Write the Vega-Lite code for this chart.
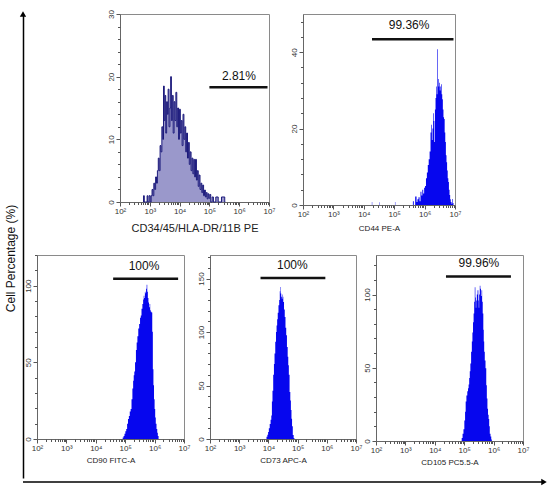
{
  "$schema": "https://vega.github.io/schema/vega-lite/v6.json",
  "background": "white",
  "padding": {"left": 4, "top": 9, "right": 0, "bottom": 0},
  "datasets": {
    "cd34": [
      {"e": 2.78, "n": 0}, {"e": 2.8, "n": 1}, {"e": 2.83, "n": 0}, {"e": 2.9, "n": 0}, {"e": 2.92, "n": 1}, {"e": 2.95, "n": 0},
      {"e": 3.0, "n": 1}, {"e": 3.03, "n": 0}, {"e": 3.06, "n": 1}, {"e": 3.09, "n": 2}, {"e": 3.12, "n": 1}, {"e": 3.15, "n": 3},
      {"e": 3.18, "n": 2}, {"e": 3.21, "n": 4}, {"e": 3.24, "n": 3}, {"e": 3.27, "n": 5}, {"e": 3.3, "n": 7}, {"e": 3.33, "n": 5},
      {"e": 3.36, "n": 9}, {"e": 3.39, "n": 8}, {"e": 3.42, "n": 12}, {"e": 3.45, "n": 10}, {"e": 3.47, "n": 18.5}, {"e": 3.5, "n": 13},
      {"e": 3.52, "n": 17}, {"e": 3.55, "n": 11}, {"e": 3.58, "n": 16}, {"e": 3.6, "n": 14}, {"e": 3.63, "n": 18}, {"e": 3.66, "n": 12},
      {"e": 3.69, "n": 15}, {"e": 3.71, "n": 20}, {"e": 3.74, "n": 13}, {"e": 3.77, "n": 17}, {"e": 3.8, "n": 11}, {"e": 3.83, "n": 16},
      {"e": 3.86, "n": 13}, {"e": 3.89, "n": 17.5}, {"e": 3.92, "n": 12}, {"e": 3.95, "n": 15}, {"e": 3.98, "n": 10}, {"e": 4.01, "n": 14.8},
      {"e": 4.04, "n": 11}, {"e": 4.07, "n": 13}, {"e": 4.1, "n": 9}, {"e": 4.13, "n": 14}, {"e": 4.16, "n": 10}, {"e": 4.19, "n": 12},
      {"e": 4.22, "n": 8}, {"e": 4.25, "n": 11}, {"e": 4.28, "n": 7}, {"e": 4.31, "n": 9.5}, {"e": 4.34, "n": 6}, {"e": 4.37, "n": 8},
      {"e": 4.4, "n": 5}, {"e": 4.43, "n": 7}, {"e": 4.46, "n": 4.5}, {"e": 4.49, "n": 6.8}, {"e": 4.52, "n": 4}, {"e": 4.55, "n": 6.8},
      {"e": 4.58, "n": 3.5}, {"e": 4.61, "n": 5}, {"e": 4.64, "n": 2.5}, {"e": 4.67, "n": 4.3}, {"e": 4.7, "n": 2}, {"e": 4.73, "n": 3},
      {"e": 4.76, "n": 1.5}, {"e": 4.79, "n": 2.7}, {"e": 4.82, "n": 1}, {"e": 4.85, "n": 1.9}, {"e": 4.88, "n": 0.8}, {"e": 4.91, "n": 1.5},
      {"e": 4.94, "n": 0.5}, {"e": 4.97, "n": 1.3}, {"e": 5.0, "n": 0.6}, {"e": 5.03, "n": 1.2}, {"e": 5.06, "n": 0}, {"e": 5.12, "n": 0.8},
      {"e": 5.15, "n": 0}, {"e": 5.28, "n": 0.8}, {"e": 5.31, "n": 0}, {"e": 5.5, "n": 0.8}, {"e": 5.53, "n": 0}
    ],
    "cd44": [
      {"e": 4.26, "n": 0}, {"e": 4.27, "n": 0.8}, {"e": 4.285, "n": 0}, {"e": 4.5, "n": 0}, {"e": 4.51, "n": 0.7}, {"e": 4.525, "n": 0},
      {"e": 5.02, "n": 0}, {"e": 5.03, "n": 0.8}, {"e": 5.045, "n": 0}, {"e": 5.6, "n": 0}, {"e": 5.63, "n": 1}, {"e": 5.66, "n": 0},
      {"e": 5.72, "n": 2.2}, {"e": 5.75, "n": 0.8},
      {"e": 5.78, "n": 1.5}, {"e": 5.82, "n": 2}, {"e": 5.85, "n": 1}, {"e": 5.88, "n": 3.5}, {"e": 5.91, "n": 2.5}, {"e": 5.94, "n": 4},
      {"e": 5.97, "n": 3}, {"e": 6.0, "n": 4.5}, {"e": 6.03, "n": 5}, {"e": 6.06, "n": 7}, {"e": 6.09, "n": 8.5}, {"e": 6.12, "n": 10.5},
      {"e": 6.15, "n": 12}, {"e": 6.18, "n": 14}, {"e": 6.21, "n": 19}, {"e": 6.23, "n": 21}, {"e": 6.25, "n": 17}, {"e": 6.27, "n": 20},
      {"e": 6.29, "n": 24}, {"e": 6.31, "n": 22}, {"e": 6.33, "n": 16.5}, {"e": 6.35, "n": 25}, {"e": 6.37, "n": 28}, {"e": 6.39, "n": 31},
      {"e": 6.41, "n": 29}, {"e": 6.43, "n": 40.8}, {"e": 6.45, "n": 33}, {"e": 6.47, "n": 31}, {"e": 6.49, "n": 32}, {"e": 6.51, "n": 30},
      {"e": 6.53, "n": 31}, {"e": 6.55, "n": 31.6}, {"e": 6.57, "n": 29}, {"e": 6.59, "n": 27.7}, {"e": 6.61, "n": 25}, {"e": 6.63, "n": 23},
      {"e": 6.65, "n": 22.5}, {"e": 6.67, "n": 19}, {"e": 6.69, "n": 16.5}, {"e": 6.71, "n": 13}, {"e": 6.73, "n": 11.2}, {"e": 6.75, "n": 9},
      {"e": 6.77, "n": 7}, {"e": 6.79, "n": 6}, {"e": 6.81, "n": 4}, {"e": 6.83, "n": 2.6}, {"e": 6.85, "n": 1.5}, {"e": 6.87, "n": 0.8},
      {"e": 6.9, "n": 0.3}, {"e": 6.92, "n": 1.6}, {"e": 6.94, "n": 0.5}, {"e": 6.96, "n": 0}
    ],
    "cd90": [
      {"e": 4.9, "n": 0}, {"e": 4.93, "n": 1}, {"e": 4.96, "n": 2}, {"e": 4.99, "n": 3.5}, {"e": 5.02, "n": 5}, {"e": 5.05, "n": 6.5},
      {"e": 5.08, "n": 10}, {"e": 5.11, "n": 13}, {"e": 5.14, "n": 15}, {"e": 5.17, "n": 18}, {"e": 5.2, "n": 19.5}, {"e": 5.23, "n": 26},
      {"e": 5.26, "n": 33}, {"e": 5.28, "n": 38}, {"e": 5.3, "n": 41.5}, {"e": 5.32, "n": 44}, {"e": 5.35, "n": 50}, {"e": 5.38, "n": 58},
      {"e": 5.4, "n": 63}, {"e": 5.43, "n": 67}, {"e": 5.46, "n": 72}, {"e": 5.49, "n": 75}, {"e": 5.52, "n": 79}, {"e": 5.54, "n": 80.5},
      {"e": 5.57, "n": 85}, {"e": 5.6, "n": 88}, {"e": 5.62, "n": 91}, {"e": 5.64, "n": 93.5}, {"e": 5.66, "n": 92}, {"e": 5.68, "n": 96},
      {"e": 5.7, "n": 95}, {"e": 5.72, "n": 98}, {"e": 5.74, "n": 100.6}, {"e": 5.76, "n": 96}, {"e": 5.78, "n": 92}, {"e": 5.8, "n": 89},
      {"e": 5.82, "n": 86}, {"e": 5.84, "n": 88}, {"e": 5.86, "n": 84}, {"e": 5.88, "n": 83}, {"e": 5.91, "n": 82.5}, {"e": 5.93, "n": 70},
      {"e": 5.95, "n": 45.5}, {"e": 5.97, "n": 35}, {"e": 5.99, "n": 26}, {"e": 6.01, "n": 19.5}, {"e": 6.03, "n": 14}, {"e": 6.05, "n": 10},
      {"e": 6.08, "n": 6.5}, {"e": 6.1, "n": 4}, {"e": 6.12, "n": 2}, {"e": 6.15, "n": 0}
    ],
    "cd73": [
      {"e": 3.92, "n": 0}, {"e": 3.95, "n": 2}, {"e": 3.98, "n": 4}, {"e": 4.0, "n": 6.5}, {"e": 4.03, "n": 10}, {"e": 4.06, "n": 14},
      {"e": 4.09, "n": 18}, {"e": 4.11, "n": 22}, {"e": 4.13, "n": 35}, {"e": 4.15, "n": 45}, {"e": 4.18, "n": 60}, {"e": 4.2, "n": 70},
      {"e": 4.22, "n": 80}, {"e": 4.25, "n": 91}, {"e": 4.27, "n": 100}, {"e": 4.29, "n": 106}, {"e": 4.31, "n": 112}, {"e": 4.33, "n": 118},
      {"e": 4.36, "n": 125}, {"e": 4.38, "n": 130}, {"e": 4.4, "n": 138}, {"e": 4.41, "n": 142}, {"e": 4.43, "n": 136}, {"e": 4.45, "n": 133},
      {"e": 4.47, "n": 131}, {"e": 4.49, "n": 135}, {"e": 4.5, "n": 133}, {"e": 4.52, "n": 128}, {"e": 4.55, "n": 121}, {"e": 4.57, "n": 114},
      {"e": 4.6, "n": 104}, {"e": 4.62, "n": 97}, {"e": 4.65, "n": 86}, {"e": 4.67, "n": 77}, {"e": 4.69, "n": 69}, {"e": 4.71, "n": 60},
      {"e": 4.74, "n": 44}, {"e": 4.76, "n": 36}, {"e": 4.78, "n": 27}, {"e": 4.8, "n": 19}, {"e": 4.82, "n": 12}, {"e": 4.85, "n": 3.7},
      {"e": 4.88, "n": 1}, {"e": 4.9, "n": 0}
    ],
    "cd105": [
      {"e": 4.9, "n": 0}, {"e": 4.93, "n": 2}, {"e": 4.96, "n": 5}, {"e": 4.99, "n": 8}, {"e": 5.02, "n": 14}, {"e": 5.04, "n": 20},
      {"e": 5.06, "n": 27}, {"e": 5.09, "n": 31}, {"e": 5.12, "n": 34}, {"e": 5.14, "n": 36}, {"e": 5.16, "n": 38.6}, {"e": 5.18, "n": 43},
      {"e": 5.2, "n": 47.6}, {"e": 5.22, "n": 53}, {"e": 5.25, "n": 61}, {"e": 5.27, "n": 68}, {"e": 5.29, "n": 74}, {"e": 5.31, "n": 81},
      {"e": 5.33, "n": 87}, {"e": 5.35, "n": 95}, {"e": 5.37, "n": 105}, {"e": 5.39, "n": 98}, {"e": 5.4, "n": 91}, {"e": 5.42, "n": 96},
      {"e": 5.44, "n": 100}, {"e": 5.47, "n": 103}, {"e": 5.49, "n": 96}, {"e": 5.5, "n": 91}, {"e": 5.52, "n": 100}, {"e": 5.54, "n": 106},
      {"e": 5.56, "n": 104}, {"e": 5.58, "n": 99}, {"e": 5.6, "n": 103}, {"e": 5.62, "n": 95}, {"e": 5.64, "n": 87}, {"e": 5.66, "n": 76},
      {"e": 5.67, "n": 68}, {"e": 5.69, "n": 61}, {"e": 5.71, "n": 55}, {"e": 5.74, "n": 49.6}, {"e": 5.76, "n": 38}, {"e": 5.78, "n": 29},
      {"e": 5.8, "n": 22}, {"e": 5.82, "n": 18}, {"e": 5.84, "n": 15}, {"e": 5.86, "n": 10}, {"e": 5.88, "n": 5}, {"e": 5.91, "n": 3},
      {"e": 5.93, "n": 1}, {"e": 5.95, "n": 0}
    ],
    "gates": [
      {"panel": "CD34", "x1": 5.0, "x2": 6.95, "y": 18.3, "tx": 5.99, "ty": 20.1, "label": "2.81%"},
      {"panel": "CD44", "x1": 4.27, "x2": 6.95, "y": 43.4, "tx": 5.49, "ty": 47, "label": "99.36%"},
      {"panel": "CD90", "x1": 4.59, "x2": 6.8, "y": 104.5, "tx": 5.64, "ty": 113, "label": "100%"},
      {"panel": "CD73", "x1": 3.73, "x2": 5.95, "y": 150.5, "tx": 4.82, "ty": 162.6, "label": "100%"},
      {"panel": "CD105", "x1": 4.38, "x2": 6.59, "y": 112.4, "tx": 5.5, "ty": 121.4, "label": "99.96%"}
    ]
  },
  "spacing": 0,
  "vconcat": [
    {
      "spacing": -4,
      "hconcat": [
        {
          "width": 1, "height": 464,
          "view": {"stroke": null},
          "data": {"values": [{"a": 0, "top": 1}]},
          "mark": {"type": "point", "shape": "triangle-up", "filled": true, "color": "black", "size": 40, "opacity": 1},
          "encoding": {
            "x": {"field": "a", "type": "quantitative", "scale": {"domain": [0, 1]}, "axis": null},
            "y": {"field": "top", "type": "quantitative", "scale": {"domain": [0, 1]},
              "axis": {"title": "Cell Percentage (%)", "domain": true, "domainColor": "black", "domainWidth": 1.5,
                "ticks": false, "labels": false, "titleFontSize": 12, "titleColor": "#111", "titlePadding": 6, "minExtent": 0, "titleY": 244}}
          }
        },
        {
          "spacing": 20,
          "vconcat": [
            {
              "spacing": 0,
              "hconcat": [
                {
                  "width": 69, "height": 188,
                  "view": {"stroke": null},
                  "data": {"values": []},
                  "mark": {"type": "point", "opacity": 0},
                  "encoding": {}
                },
                {
                  "width": 149, "height": 188,
                  "resolve": {"axis": {"x": "independent", "y": "independent"}},
                  "layer": [
                    {
                      "data": {"name": "cd34"},
                      "mark": {"type": "area", "interpolate": "step", "color": "#9a98cb", "opacity": 1},
                      "encoding": {
                        "x": {"field": "e", "type": "quantitative", "scale": {"domain": [2, 7], "nice": false, "zero": false},
                          "axis": {"orient": "bottom", "title": "CD34/45/HLA-DR/11B PE", "titleFontSize": 11, "titlePadding": 7,
                            "values": [2, 3, 4, 5, 6, 7], "tickSize": 4,
                            "labelExpr": "'10' + ['⁰','¹','²','³','⁴','⁵','⁶','⁷'][round(datum.value)]"}},
                        "y": {"field": "n", "type": "quantitative", "scale": {"domain": [0, 30], "nice": false},
                          "axis": {"orient": "left", "title": null, "labelAngle": 270, "labelAlign": "center", "labelBaseline": "bottom",
                            "values": [0, 10, 20, 30], "tickSize": 4}}
                      }
                    },
                    {
                      "data": {"name": "cd34"},
                      "mark": {"type": "line", "interpolate": "step", "color": "#1c1a7c", "strokeWidth": 1},
                      "encoding": {
                        "x": {"field": "e", "type": "quantitative",
                          "axis": {"orient": "bottom", "title": null, "labels": false, "domain": false, "tickSize": 2.5,
                            "values": [2.301, 2.477, 2.602, 2.699, 2.778, 2.845, 2.903, 2.954, 3.301, 3.477, 3.602, 3.699, 3.778, 3.845, 3.903, 3.954, 4.301, 4.477, 4.602, 4.699, 4.778, 4.845, 4.903, 4.954, 5.301, 5.477, 5.602, 5.699, 5.778, 5.845, 5.903, 5.954, 6.301, 6.477, 6.602, 6.699, 6.778, 6.845, 6.903, 6.954]}},
                        "y": {"field": "n", "type": "quantitative",
                          "axis": {"orient": "left", "title": null, "labels": false, "domain": false, "tickSize": 2.5,
                            "values": [2, 4, 6, 8, 12, 14, 16, 18, 22, 24, 26, 28]}}
                      }
                    },
                    {
                      "data": {"name": "gates"},
                      "transform": [{"filter": "datum.panel === 'CD34'"}],
                      "mark": {"type": "rule", "color": "#111", "strokeWidth": 2.5},
                      "encoding": {"x": {"field": "x1", "type": "quantitative", "axis": null}, "x2": {"field": "x2"}, "y": {"field": "y", "type": "quantitative", "axis": null}}
                    },
                    {
                      "data": {"name": "gates"},
                      "transform": [{"filter": "datum.panel === 'CD34'"}],
                      "mark": {"type": "text", "fontSize": 12, "color": "#111", "baseline": "middle"},
                      "encoding": {"x": {"field": "tx", "type": "quantitative", "axis": null}, "y": {"field": "ty", "type": "quantitative", "axis": null}, "text": {"field": "label"}}
                    }
                  ]
                },
                {
                  "width": 152, "height": 191,
                  "resolve": {"axis": {"x": "independent", "y": "independent"}},
                  "layer": [
                    {
                      "data": {"name": "cd44"},
                      "mark": {"type": "area", "interpolate": "step", "color": "#0606ee", "opacity": 1},
                      "encoding": {
                        "x": {"field": "e", "type": "quantitative", "scale": {"domain": [2, 7], "nice": false, "zero": false},
                          "axis": {"orient": "bottom", "title": "CD44 PE-A", "titleFontSize": 8, "titlePadding": 6,
                            "values": [2, 3, 4, 5, 6, 7], "tickSize": 4,
                            "labelExpr": "'10' + ['⁰','¹','²','³','⁴','⁵','⁶','⁷'][round(datum.value)]"}},
                        "y": {"field": "n", "type": "quantitative", "scale": {"domain": [0, 50], "nice": false},
                          "axis": {"orient": "left", "title": null, "minExtent": 26, "labelAngle": 270, "labelAlign": "center", "labelBaseline": "bottom",
                            "values": [0, 20, 40], "tickSize": 4}}
                      }
                    },
                    {
                      "data": {"name": "cd44"},
                      "mark": {"type": "point", "opacity": 0},
                      "encoding": {
                        "x": {"field": "e", "type": "quantitative",
                          "axis": {"orient": "bottom", "title": null, "labels": false, "domain": false, "tickSize": 2.5,
                            "values": [2.301, 2.477, 2.602, 2.699, 2.778, 2.845, 2.903, 2.954, 3.301, 3.477, 3.602, 3.699, 3.778, 3.845, 3.903, 3.954, 4.301, 4.477, 4.602, 4.699, 4.778, 4.845, 4.903, 4.954, 5.301, 5.477, 5.602, 5.699, 5.778, 5.845, 5.903, 5.954, 6.301, 6.477, 6.602, 6.699, 6.778, 6.845, 6.903, 6.954]}},
                        "y": {"field": "n", "type": "quantitative",
                          "axis": {"orient": "left", "title": null, "labels": false, "domain": false, "tickSize": 2.5,
                            "values": [4, 8, 12, 16, 24, 28, 32, 36, 44, 48]}}
                      }
                    },
                    {
                      "data": {"name": "gates"},
                      "transform": [{"filter": "datum.panel === 'CD44'"}],
                      "mark": {"type": "rule", "color": "#111", "strokeWidth": 2.5},
                      "encoding": {"x": {"field": "x1", "type": "quantitative", "axis": null}, "x2": {"field": "x2"}, "y": {"field": "y", "type": "quantitative", "axis": null}}
                    },
                    {
                      "data": {"name": "gates"},
                      "transform": [{"filter": "datum.panel === 'CD44'"}],
                      "mark": {"type": "text", "fontSize": 12, "color": "#111", "baseline": "middle"},
                      "encoding": {"x": {"field": "tx", "type": "quantitative", "axis": null}, "y": {"field": "ty", "type": "quantitative", "axis": null}, "text": {"field": "label"}}
                    }
                  ]
                }
              ]
            },
            {
              "spacing": 5,
              "hconcat": [
                {
                  "width": 147, "height": 184,
                  "resolve": {"axis": {"x": "independent", "y": "independent"}},
                  "layer": [
                    {
                      "data": {"name": "cd90"},
                      "mark": {"type": "area", "interpolate": "step", "color": "#0606ee", "opacity": 1},
                      "encoding": {
                        "x": {"field": "e", "type": "quantitative", "scale": {"domain": [2, 7], "nice": false, "zero": false},
                          "axis": {"orient": "bottom", "title": "CD90 FITC-A", "titleFontSize": 8, "titlePadding": 4,
                            "values": [2, 3, 4, 5, 6, 7], "tickSize": 4,
                            "labelExpr": "'10' + ['⁰','¹','²','³','⁴','⁵','⁶','⁷'][round(datum.value)]"}},
                        "y": {"field": "n", "type": "quantitative", "scale": {"domain": [0, 120], "nice": false},
                          "axis": {"orient": "left", "title": null, "labelAngle": 270, "labelAlign": "center", "labelBaseline": "bottom",
                            "values": [0, 50, 100], "tickSize": 4}}
                      }
                    },
                    {
                      "data": {"name": "cd90"},
                      "mark": {"type": "point", "opacity": 0},
                      "encoding": {
                        "x": {"field": "e", "type": "quantitative",
                          "axis": {"orient": "bottom", "title": null, "labels": false, "domain": false, "tickSize": 2.5,
                            "values": [2.301, 2.477, 2.602, 2.699, 2.778, 2.845, 2.903, 2.954, 3.301, 3.477, 3.602, 3.699, 3.778, 3.845, 3.903, 3.954, 4.301, 4.477, 4.602, 4.699, 4.778, 4.845, 4.903, 4.954, 5.301, 5.477, 5.602, 5.699, 5.778, 5.845, 5.903, 5.954, 6.301, 6.477, 6.602, 6.699, 6.778, 6.845, 6.903, 6.954]}},
                        "y": {"field": "n", "type": "quantitative",
                          "axis": {"orient": "left", "title": null, "labels": false, "domain": false, "tickSize": 2.5,
                            "values": [10, 20, 30, 40, 60, 70, 80, 90, 110, 120]}}
                      }
                    },
                    {
                      "data": {"name": "gates"},
                      "transform": [{"filter": "datum.panel === 'CD90'"}],
                      "mark": {"type": "rule", "color": "#111", "strokeWidth": 2.5},
                      "encoding": {"x": {"field": "x1", "type": "quantitative", "axis": null}, "x2": {"field": "x2"}, "y": {"field": "y", "type": "quantitative", "axis": null}}
                    },
                    {
                      "data": {"name": "gates"},
                      "transform": [{"filter": "datum.panel === 'CD90'"}],
                      "mark": {"type": "text", "fontSize": 12, "color": "#111", "baseline": "middle"},
                      "encoding": {"x": {"field": "tx", "type": "quantitative", "axis": null}, "y": {"field": "ty", "type": "quantitative", "axis": null}, "text": {"field": "label"}}
                    }
                  ]
                },
                {
                  "spacing": -1,
                  "hconcat": [
                    {
                      "width": 146, "height": 184,
                      "resolve": {"axis": {"x": "independent", "y": "independent"}},
                      "layer": [
                        {
                          "data": {"name": "cd73"},
                          "mark": {"type": "area", "interpolate": "step", "color": "#0606ee", "opacity": 1},
                          "encoding": {
                            "x": {"field": "e", "type": "quantitative", "scale": {"domain": [2, 7], "nice": false, "zero": false},
                              "axis": {"orient": "bottom", "title": "CD73 APC-A", "titleFontSize": 8, "titlePadding": 4,
                                "values": [2, 3, 4, 5, 6, 7], "tickSize": 4,
                                "labelExpr": "'10' + ['⁰','¹','²','³','⁴','⁵','⁶','⁷'][round(datum.value)]"}},
                            "y": {"field": "n", "type": "quantitative", "scale": {"domain": [0, 172], "nice": false},
                              "axis": {"orient": "left", "title": null, "labelAngle": 270, "labelAlign": "center", "labelBaseline": "bottom",
                                "values": [0, 50, 100, 150], "tickSize": 4}}
                          }
                        },
                        {
                          "data": {"name": "cd73"},
                          "mark": {"type": "point", "opacity": 0},
                          "encoding": {
                            "x": {"field": "e", "type": "quantitative",
                              "axis": {"orient": "bottom", "title": null, "labels": false, "domain": false, "tickSize": 2.5,
                                "values": [2.301, 2.477, 2.602, 2.699, 2.778, 2.845, 2.903, 2.954, 3.301, 3.477, 3.602, 3.699, 3.778, 3.845, 3.903, 3.954, 4.301, 4.477, 4.602, 4.699, 4.778, 4.845, 4.903, 4.954, 5.301, 5.477, 5.602, 5.699, 5.778, 5.845, 5.903, 5.954, 6.301, 6.477, 6.602, 6.699, 6.778, 6.845, 6.903, 6.954]}},
                            "y": {"field": "n", "type": "quantitative",
                              "axis": {"orient": "left", "title": null, "labels": false, "domain": false, "tickSize": 2.5,
                                "values": [10, 20, 30, 40, 60, 70, 80, 90, 110, 120, 130, 140, 160, 170]}}
                          }
                        },
                        {
                          "data": {"name": "gates"},
                          "transform": [{"filter": "datum.panel === 'CD73'"}],
                          "mark": {"type": "rule", "color": "#111", "strokeWidth": 2.5},
                          "encoding": {"x": {"field": "x1", "type": "quantitative", "axis": null}, "x2": {"field": "x2"}, "y": {"field": "y", "type": "quantitative", "axis": null}}
                        },
                        {
                          "data": {"name": "gates"},
                          "transform": [{"filter": "datum.panel === 'CD73'"}],
                          "mark": {"type": "text", "fontSize": 12, "color": "#111", "baseline": "middle"},
                          "encoding": {"x": {"field": "tx", "type": "quantitative", "axis": null}, "y": {"field": "ty", "type": "quantitative", "axis": null}, "text": {"field": "label"}}
                        }
                      ]
                    },
                    {
                      "width": 147, "height": 186,
                      "resolve": {"axis": {"x": "independent", "y": "independent"}},
                      "layer": [
                        {
                          "data": {"name": "cd105"},
                          "mark": {"type": "area", "interpolate": "step", "color": "#0606ee", "opacity": 1},
                          "encoding": {
                            "x": {"field": "e", "type": "quantitative", "scale": {"domain": [2, 7], "nice": false, "zero": false},
                              "axis": {"orient": "bottom", "title": "CD105 PC5.5-A", "titleFontSize": 8, "titlePadding": 4,
                                "values": [2, 3, 4, 5, 6, 7], "tickSize": 4,
                                "labelExpr": "'10' + ['⁰','¹','²','³','⁴','⁵','⁶','⁷'][round(datum.value)]"}},
                            "y": {"field": "n", "type": "quantitative", "scale": {"domain": [0, 127], "nice": false},
                              "axis": {"orient": "left", "title": null, "labelAngle": 270, "labelAlign": "center", "labelBaseline": "bottom",
                                "values": [0, 50, 100], "tickSize": 4}}
                          }
                        },
                        {
                          "data": {"name": "cd105"},
                          "mark": {"type": "point", "opacity": 0},
                          "encoding": {
                            "x": {"field": "e", "type": "quantitative",
                              "axis": {"orient": "bottom", "title": null, "labels": false, "domain": false, "tickSize": 2.5,
                                "values": [2.301, 2.477, 2.602, 2.699, 2.778, 2.845, 2.903, 2.954, 3.301, 3.477, 3.602, 3.699, 3.778, 3.845, 3.903, 3.954, 4.301, 4.477, 4.602, 4.699, 4.778, 4.845, 4.903, 4.954, 5.301, 5.477, 5.602, 5.699, 5.778, 5.845, 5.903, 5.954, 6.301, 6.477, 6.602, 6.699, 6.778, 6.845, 6.903, 6.954]}},
                            "y": {"field": "n", "type": "quantitative",
                              "axis": {"orient": "left", "title": null, "labels": false, "domain": false, "tickSize": 2.5,
                                "values": [10, 20, 30, 40, 60, 70, 80, 90, 110, 120]}}
                          }
                        },
                        {
                          "data": {"name": "gates"},
                          "transform": [{"filter": "datum.panel === 'CD105'"}],
                          "mark": {"type": "rule", "color": "#111", "strokeWidth": 2.5},
                          "encoding": {"x": {"field": "x1", "type": "quantitative", "axis": null}, "x2": {"field": "x2"}, "y": {"field": "y", "type": "quantitative", "axis": null}}
                        },
                        {
                          "data": {"name": "gates"},
                          "transform": [{"filter": "datum.panel === 'CD105'"}],
                          "mark": {"type": "text", "fontSize": 12, "color": "#111", "baseline": "middle"},
                          "encoding": {"x": {"field": "tx", "type": "quantitative", "axis": null}, "y": {"field": "ty", "type": "quantitative", "axis": null}, "text": {"field": "label"}}
                        }
                      ]
                    }
                  ]
                }
              ]
            }
          ]
        }
      ]
    },
    {
      "width": 521, "height": 6,
      "view": {"stroke": null},
      "data": {"values": [{"a": 0, "b": 1, "c": 1}]},
      "layer": [
        {
          "mark": {"type": "rule", "color": "black", "strokeWidth": 1.5},
          "encoding": {
            "x": {"field": "a", "type": "quantitative", "scale": {"domain": [0, 1]}, "axis": null},
            "x2": {"field": "b"},
            "y": {"field": "c", "type": "quantitative", "scale": {"domain": [0, 1]},
              "axis": {"title": null, "domain": false, "ticks": false, "labels": false, "minExtent": 18}}
          }
        },
        {
          "mark": {"type": "point", "shape": "triangle-right", "filled": true, "color": "black", "size": 40, "opacity": 1},
          "encoding": {"x": {"field": "b", "type": "quantitative"}, "y": {"field": "c", "type": "quantitative"}}
        }
      ]
    }
  ],
  "config": {
    "font": "Liberation Sans",
    "view": {"stroke": "#8a8a8a", "strokeWidth": 1},
    "axis": {
      "grid": false, "labelFont": "Liberation Sans", "labelFontSize": 8, "labelColor": "#333",
      "tickColor": "#555", "domainColor": "#666", "labelPadding": 1, "labelOverlap": false, "labelFlush": false,
      "titleFont": "Liberation Sans", "titleFontWeight": "normal", "titleColor": "#222"
    }
  }
}
